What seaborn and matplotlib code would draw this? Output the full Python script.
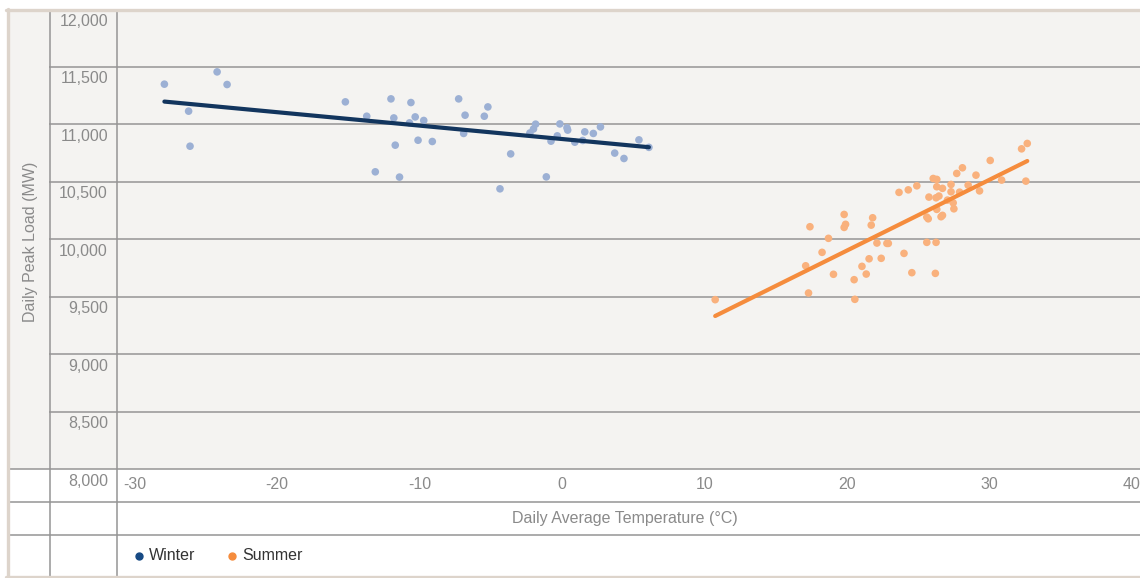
import matplotlib
matplotlib.use("Agg")
import matplotlib.pyplot as plt
import numpy as np
import pandas as pd
import seaborn as sns
from matplotlib.lines import Line2D
from matplotlib.patches import Rectangle
from matplotlib.transforms import ScaledTranslation

# Winter days: average temperature (°C) and daily peak load (MW)
winter_temp = [-27.9, -24.2, -23.5, -26.2, -26.1, -15.2, -13.7, -12.0, -11.8, -11.7,
               -13.1, -11.4, -10.6, -10.3, -10.7, -9.7, -10.1, -9.1, -7.25, -6.8,
               -6.9, -5.2, -5.45, -4.35, -3.6, -2.25, -2.0, -1.85, -1.1, -0.15,
               -0.33, -0.77, 0.35, 0.4, 0.9, 1.45, 1.6, 2.2, 2.7, 3.7,
               4.35, 5.4, 6.1]
winter_load = [11350, 11457, 11347, 11115, 10810, 11196, 11071, 11222, 11056, 10819,
               10587, 10541, 11190, 11065, 11013, 11034, 10862, 10851, 11222, 11080,
               10921, 11152, 11071, 10439, 10743, 10925, 10960, 11002, 10543, 11004,
               10900, 10854, 10970, 10950, 10845, 10860, 10935, 10921, 10978, 10750,
               10703, 10865, 10800]

# Summer days
summer_temp = [10.75, 17.4, 17.1, 17.3, 18.25, 18.7, 19.05, 19.8, 19.9, 19.8,
               20.5, 20.55, 21.05, 21.35, 21.55, 21.7, 21.8, 22.1, 22.4, 22.8,
               22.9, 23.65, 24.0, 24.55, 24.3, 24.9, 25.6, 26.25, 26.2, 25.6,
               25.7, 25.75, 26.05, 26.3, 26.3, 26.25, 26.45, 26.7, 26.3, 26.6,
               26.7, 27.3, 27.3, 27.05, 27.45, 27.5, 27.9, 27.7, 28.1, 28.5,
               29.05, 29.3, 30.05, 30.85, 32.25, 32.65, 32.55]
summer_load = [9474, 10109, 9769, 9532, 9886, 10008, 9695, 10216, 10130, 10103,
               9648, 9477, 9764, 9697, 9830, 10123, 10187, 9967, 9834, 9964,
               9964, 10408, 9877, 9709, 10430, 10465, 9973, 9973, 9703, 10193,
               10178, 10367, 10529, 10521, 10457, 10361, 10376, 10443, 10260, 10196,
               10208, 10477, 10413, 10341, 10317, 10265, 10410, 10573, 10622, 10471,
               10558, 10421, 10686, 10515, 10787, 10834, 10506]

seasons = ["Winter", "Summer"]
x_ticks = [-30, -20, -10, 0, 10, 20, 30, 40]
y_ticks = [8000, 8500, 9000, 9500, 10000, 10500, 11000, 11500, 12000]

# colours
BG = "#f4f3f1"
FRAME = "#ddd4cb"
RULE = "#959595"
TICK = "#8a8a8a"
DOT = {"Winter": "#9cb0d4", "Summer": "#f9b17d"}
TREND = {"Winter": "#12355e", "Summer": "#f58c3d"}
KEY = {"Winter": "#174a84", "Summer": "#f58c3d"}

df = pd.concat([
    pd.DataFrame({"temp": winter_temp, "load": winter_load, "season": "Winter"}),
    pd.DataFrame({"temp": summer_temp, "load": summer_load, "season": "Summer"}),
], ignore_index=True)

sns.set_theme(style="white")
plt.rcParams["font.family"] = ["Liberation Sans", "DejaVu Sans"]

W, H = 1140, 578
fig = plt.figure(figsize=(W / 100, H / 100), dpi=100)
fig.patch.set_facecolor("white")


def fx(px):
    return px / W


def fy(py):
    return 1 - py / H


# shaded panel behind the plotting area and the label columns
fig.add_artist(Rectangle((fx(9), fy(469)), fx(W) - fx(9), fy(10) - fy(469),
                         transform=fig.transFigure, facecolor=BG,
                         edgecolor="none", zorder=-5))

ax = fig.add_axes([fx(116.5), fy(469), 1 - fx(116.5), fy(9.5) - fy(469)])
ax.patch.set_alpha(0)
for s in ax.spines.values():
    s.set_visible(False)

# horizontal rules reach back to the column divider
ax.hlines(y_ticks[1:-1], -0.066, 1, transform=ax.get_yaxis_transform(),
          colors=RULE, lw=1.1, clip_on=False, zorder=1)

sns.scatterplot(data=df, x="temp", y="load", hue="season", hue_order=seasons,
                palette=DOT, s=30, linewidth=0, legend=False, ax=ax, zorder=2)
for season in seasons:
    sub = df[df["season"] == season]
    sns.regplot(data=sub, x="temp", y="load", scatter=False, ci=None,
                truncate=True, ax=ax,
                line_kws={"color": TREND[season], "lw": 3.0,
                          "solid_capstyle": "round", "zorder": 3})

ax.set_xlim(-31.26, 40.56)
ax.set_ylim(8000, 12000)
ax.set_xlabel("")
ax.set_ylabel("")
ax.set_xticks(x_ticks)
ax.set_xticklabels([f"{v}" for v in x_ticks])
ax.tick_params(axis="x", length=0, pad=5.5, labelsize=11.5, labelcolor=TICK)
ax.set_yticks([])

# value labels sit just under their rule
off = ScaledTranslation(-8.5 / 100, -4.5 / 100, fig.dpi_scale_trans)
for v in y_ticks:
    ax.text(0, v, f"{v:,}", transform=ax.get_yaxis_transform() + off,
            ha="right", va="top", fontsize=11.5, color=TICK, clip_on=False)

# table rules: columns and rows
for px in (49.5, 116.5):
    fig.add_artist(Line2D([fx(px), fx(px)], [fy(10), fy(577)],
                          transform=fig.transFigure, color=RULE, lw=1.1))
for py in (469, 502, 535):
    fig.add_artist(Line2D([fx(8), fx(W)], [fy(py), fy(py)],
                          transform=fig.transFigure, color=RULE, lw=1.1))

# light frame on top, left and bottom
fig.add_artist(Line2D([fx(6), fx(W)], [fy(9.5), fy(9.5)],
                      transform=fig.transFigure, color=FRAME, lw=2.4))
fig.add_artist(Line2D([fx(7.5), fx(7.5)], [fy(8.5), fy(578)],
                      transform=fig.transFigure, color=FRAME, lw=2.4))
fig.add_artist(Line2D([fx(6), fx(W)], [fy(577), fy(577)],
                      transform=fig.transFigure, color=FRAME, lw=2.4))

fig.text(fx(625), fy(518), "Daily Average Temperature (°C)", ha="center",
         va="center", fontsize=11.5, color=TICK)
fig.text(fx(31), fy(242), "Daily Peak Load (MW)", ha="center", va="center",
         rotation=90, fontsize=11.5, color=TICK)

# legend row
for season, mx, tx in (("Winter", 139, 149), ("Summer", 232, 242)):
    fig.add_artist(Line2D([fx(mx)], [fy(555.5)], transform=fig.transFigure,
                          marker="o", markersize=5, color=KEY[season], lw=0))
    fig.text(fx(tx), fy(555.5), season, ha="left", va="center",
             fontsize=11.5, color="#333333")

fig.savefig("out.png", dpi=100, facecolor="white")
